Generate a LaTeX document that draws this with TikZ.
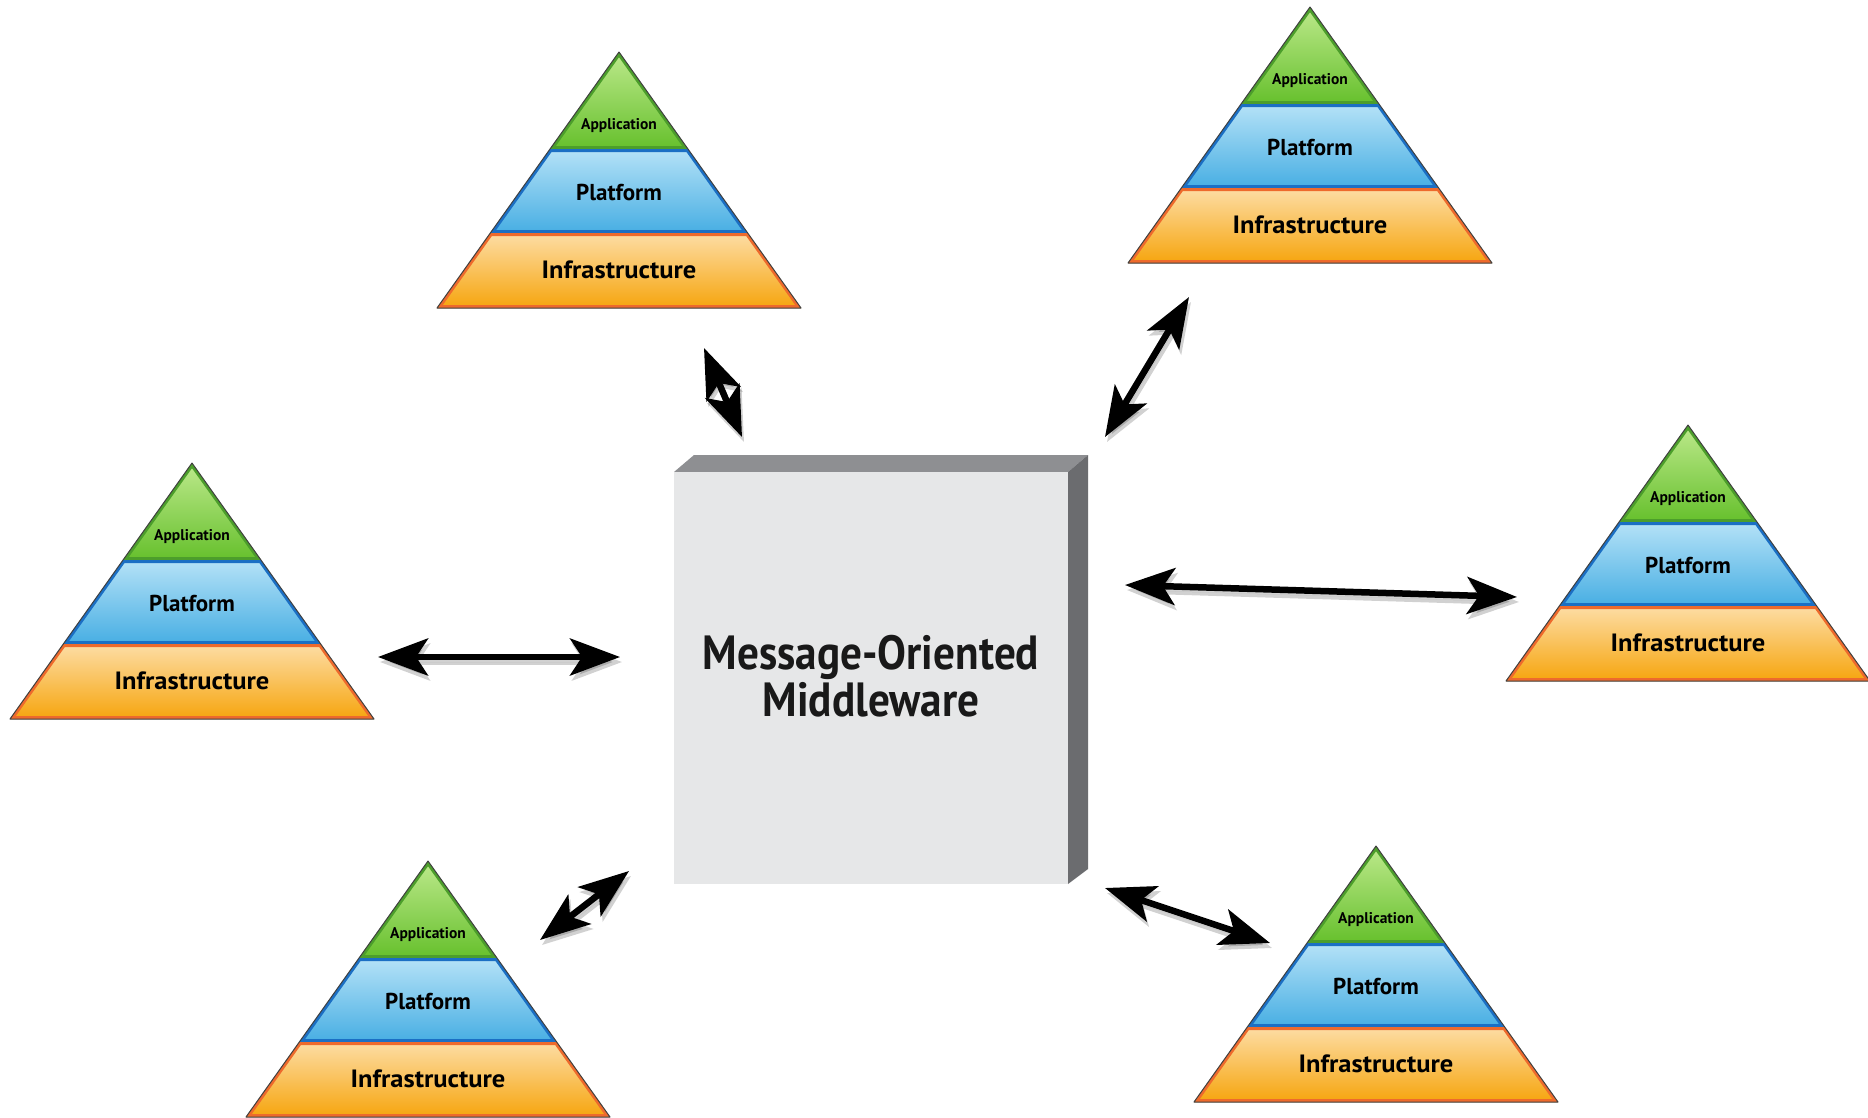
\documentclass[tikz,border=0pt]{standalone}
\usepackage{fontspec}
\setmainfont{PT Sans}
\usetikzlibrary{arrows.meta}
\definecolor{grnT}{HTML}{BDE98C}
\definecolor{grnB}{HTML}{66C02C}
\definecolor{grnE}{HTML}{4C9E2B}
\definecolor{bluT}{HTML}{B5E2F7}
\definecolor{bluB}{HTML}{47AEE3}
\definecolor{bluE}{HTML}{1B6FC4}
\definecolor{orgT}{HTML}{FDDDA5}
\definecolor{orgB}{HTML}{F6A50E}
\definecolor{orgE}{HTML}{EE6A2C}
\definecolor{boxF}{HTML}{E6E7E8}
\definecolor{boxT}{HTML}{8E8F92}
\definecolor{boxS}{HTML}{6B6C6F}
\newcommand\layer[4]{% path, top, bottom, edge
  \shade[top color=#2, bottom color=#3] #1;
  \begin{scope}\clip #1; \draw[#4, line width=6pt, line join=round] #1; \end{scope}}
\newcommand\pyramid[2]{%
  \begin{scope}[shift={#2}]
    \layer{(0,0) -- (69,97) -- (-69,97) -- cycle}{grnT}{grnB}{grnE}
    \layer{(-69,97) -- (69,97) -- (128.7,181) -- (-128.7,181) -- cycle}{bluT}{bluB}{bluE}
    \layer{(-128.7,181) -- (128.7,181) -- (182,256) -- (-182,256) -- cycle}{orgT}{orgB}{orgE}
    \draw[black!75, line width=1pt, line join=round] (0,0) -- (182,256) -- (-182,256) -- cycle;
    \node[apptxt] (#1-app) at (0,74) {Application};
    \node[laytxt] (#1-plat) at (0,140) {Platform};
    \node[inftxt] (#1-inf) at (0,218) {\scalebox{1.06}[1]{Infrastructure}};
  \end{scope}}
\begin{document}
\begin{tikzpicture}[x=1pt, y=-1pt,
  apptxt/.style={font=\fontsize{15.5}{17}\selectfont\bfseries, inner sep=0pt},
  laytxt/.style={font=\fontsize{23}{25}\selectfont\bfseries, inner sep=0pt},
  inftxt/.style={font=\fontsize{25}{27}\selectfont\bfseries, inner sep=0pt},
  momtxt/.style={font=\fontsize{48}{47}\selectfont\bfseries, align=center, inner sep=0pt, text=black!90},
  link/.style={line width=6.5pt, {Stealth[length=50pt, width=37pt, inset=12pt]}-{Stealth[length=50pt, width=37pt, inset=12pt]}},
  linkshadow/.style={link, draw=black, fill=black, opacity=0.18}]
\useasboundingbox (0,0) rectangle (1868,1117);
\fill[white] (0,0) rectangle (1868,1117);

% pyramids
\pyramid{pa}{(619,52)}
\pyramid{pb}{(1310,7)}
\pyramid{pc}{(192,463)}
\pyramid{pd}{(1688,425)}
\pyramid{pe}{(428,861)}
\pyramid{pf}{(1376,846)}

% central box
\fill[boxT] (674,472) -- (694,455) -- (1088,455) -- (1068,472) -- cycle;
\fill[boxS] (1068,472) -- (1088,455) -- (1088,869) -- (1068,884) -- cycle;
\fill[boxF] (674,472) rectangle (1068,884);
\node[momtxt] (mom) at (871,676) {\scalebox{0.9}[1]{Message-Oriented}\\\scalebox{0.9}[1]{Middleware}};

% connector end points
\coordinate (a1s) at (704,348);  \coordinate (a1e) at (742,437);
\coordinate (a2s) at (1189,297); \coordinate (a2e) at (1105,437);
\coordinate (a3s) at (378,657);  \coordinate (a3e) at (620,657);
\coordinate (a4s) at (1125,585); \coordinate (a4e) at (1517,597);
\coordinate (a5s) at (629,871);  \coordinate (a5e) at (540,940);
\coordinate (a6s) at (1105,888); \coordinate (a6e) at (1270,943);

% shadows
\foreach \i in {1,...,6}
  \draw[linkshadow] ([shift={(2,5)}]a\i s) -- ([shift={(2,5)}]a\i e);
% arrows
\draw[link] (a1s) -- (a1e);
\draw[link] (a2s) -- (a2e);
\draw[link] (a3s) -- (a3e);
\draw[link] (a4s) -- (a4e);
\draw[link] (a5s) -- (a5e);
\draw[link] (a6s) -- (a6e);
\end{tikzpicture}
\end{document}
